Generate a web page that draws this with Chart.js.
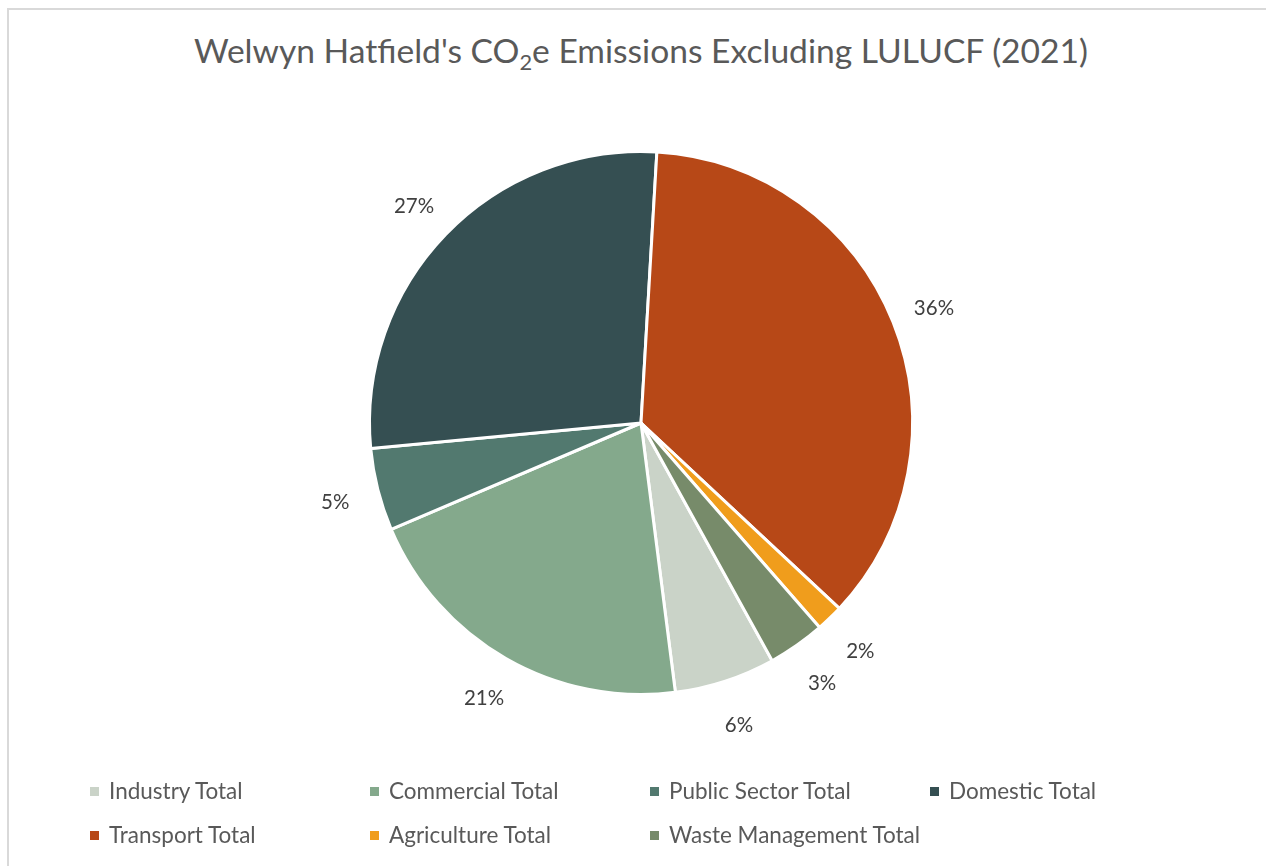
<!DOCTYPE html>
<html>
<head>
<meta charset="utf-8">
<script src="https://cdn.jsdelivr.net/npm/chart.js@4"></script>
<style>
  html, body { margin: 0; padding: 0; background: #fff; }
  body { width: 1266px; height: 866px; position: relative; overflow: hidden; font-family: Lato, "Open Sans", sans-serif; }
  #frame { position: absolute; left: 7px; top: 8px; width: 1280px; height: 880px; border: 2px solid #d9d9d9; box-sizing: border-box; }
  #titulo { position: absolute; left: 0; width: 1282px; top: 30px; text-align: center; font-size: 33.6px; color: #595959; white-space: nowrap; }
  #titulo sub { font-size: 0.65em; vertical-align: -0.3em; line-height: 0; }
  #grafico { position: absolute; left: 0; top: 0; }
  #leyenda { position: absolute; left: 0; top: 0; }
  .item { position: absolute; font-size: 22.5px; color: #595959; white-space: nowrap; line-height: 24px; }
  .item span.cuadro { display: inline-block; width: 9px; height: 9px; margin-right: 10px; vertical-align: 3px; }
</style>
</head>
<body>
<div id="frame"></div>
<div id="titulo">Welwyn Hatfield's CO<sub>2</sub>e Emissions Excluding LULUCF (2021)</div>
<canvas id="grafico" width="1266" height="866"></canvas>
<div id="leyenda"></div>
<script>
// ======= Datos =======
const categorias = ["Industry Total", "Commercial Total", "Public Sector Total", "Domestic Total",
                    "Transport Total", "Agriculture Total", "Waste Management Total"];
const porcentajes = [6.0, 20.6, 4.9, 27.4, 36.0, 1.6, 3.4];
const colores = ["#cad3c8", "#84a98c", "#52796f", "#354f52", "#b74817", "#f09d1c", "#778b6a"];

// etiquetas de porcentaje por fuera de cada porcion
const etiquetasFuera = {
  id: "etiquetasFuera",
  afterDatasetsDraw(chart) {
    const c = chart.ctx;
    const meta = chart.getDatasetMeta(0);
    const total = porcentajes.reduce((a, b) => a + b, 0);
    c.save();
    c.font = "20.5px Lato, 'Open Sans', sans-serif";
    c.fillStyle = "#404040";
    c.textAlign = "center";
    c.textBaseline = "middle";
    meta.data.forEach((arc, i) => {
      const p = arc.getProps(["x", "y", "startAngle", "endAngle", "outerRadius"], true);
      const medio = (p.startAngle + p.endAngle) / 2;
      const r = p.outerRadius + 44;
      const txt = Math.round(porcentajes[i] / total * 100) + "%";
      c.fillText(txt, p.x + Math.cos(medio) * r, p.y + Math.sin(medio) * r + 2);
    });
    c.restore();
  }
};

const chart = new Chart(document.getElementById("grafico"), {
  type: "pie",
  data: {
    labels: categorias,
    datasets: [{
      data: porcentajes,
      backgroundColor: colores,
      borderColor: "#ffffff",
      borderWidth: 3
    }]
  },
  options: {
    responsive: false,
    animation: false,
    rotation: 151.1,
    layout: { padding: { left: 368, right: 352, top: 150, bottom: 170 } },
    plugins: {
      legend: { display: false },
      tooltip: { enabled: false }
    }
  },
  plugins: [etiquetasFuera]
});

// ======= Leyenda en grilla =======
const leyenda = document.getElementById("leyenda");
categorias.forEach((nombre, i) => {
  const fila = Math.floor(i / 4);
  const col = i % 4;
  const div = document.createElement("div");
  div.className = "item";
  div.style.left = (90 + col * 280) + "px";
  div.style.top = (779 + fila * 44) + "px";
  div.innerHTML = `<span class="cuadro" style="background:${colores[i]}"></span>${nombre}`;
  leyenda.appendChild(div);
});
</script>
</body>
</html>
